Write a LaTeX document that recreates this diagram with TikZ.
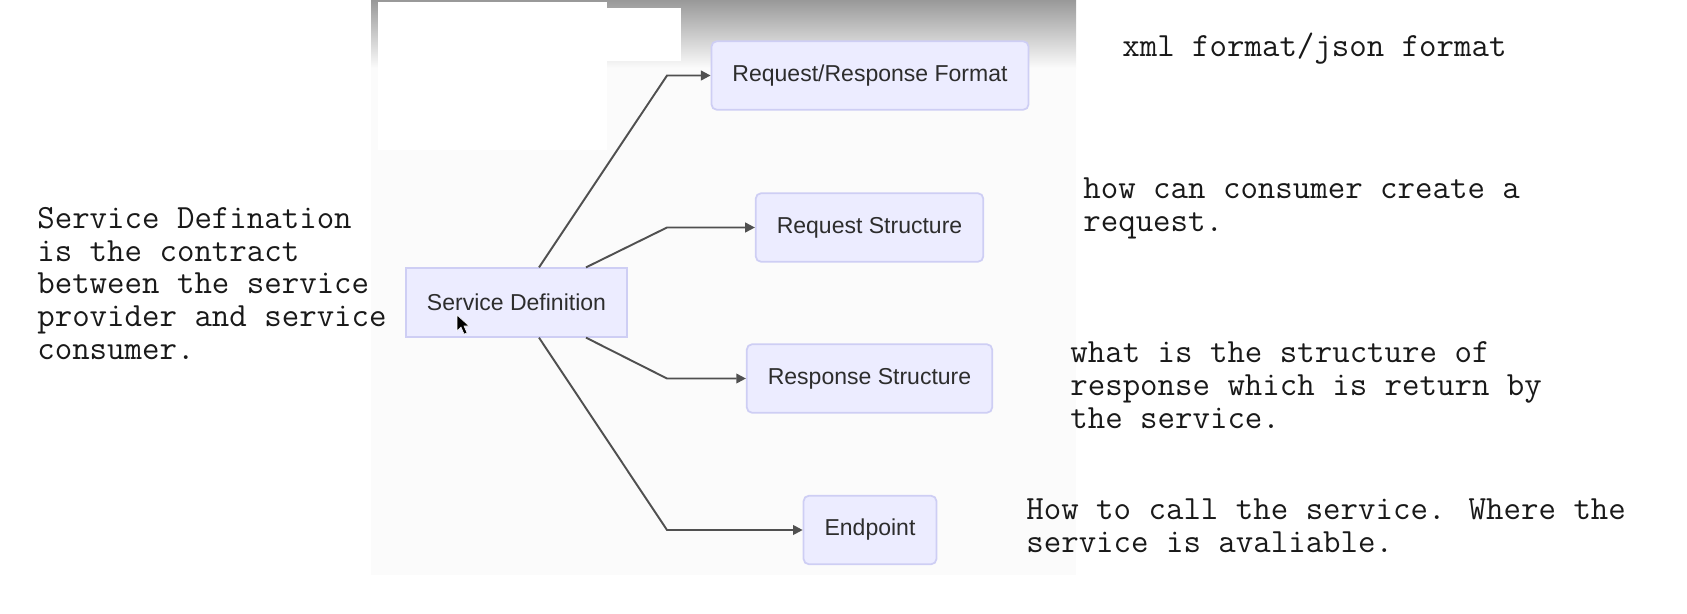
\documentclass[tikz,border=0pt]{standalone}
\usepackage{fontspec}
\newfontfamily\boxfont{Liberation Sans}
\usetikzlibrary{arrows.meta}
\definecolor{boxfill}{RGB}{236,236,255}
\definecolor{boxline}{RGB}{206,206,244}
\definecolor{ink}{RGB}{45,45,45}
\definecolor{wire}{RGB}{80,80,80}
\definecolor{shot}{RGB}{251,251,251}
\tikzset{
  topic/.style={draw=boxline, fill=boxfill, line width=1pt, rounded corners=3pt,
    minimum height=1.37cm, inner xsep=0.42cm, text=ink,
    font=\boxfont\fontsize{13.1}{15}\selectfont},
  note/.style={anchor=base west, align=left, inner sep=0pt, text=black!90,
    font=\ttfamily\fontsize{19.3}{18.55}\selectfont},
  wire/.style={draw=wire, line width=1.1pt, -{Triangle[length=5.5pt,width=5.5pt]}}
}

\begin{document}
\begin{tikzpicture}[x=0.02cm,y=-0.02cm]
\useasboundingbox (0,0) rectangle (1687,613);
% screenshot behind the diagram
\fill[shot] (371,0) rectangle (1076,575);
\shade[top color=black!40, bottom color=shot] (371,0) rectangle (1076,68);
\fill[white] (378,2) rectangle (607,150);
\fill[white] (607,8) rectangle (681,61);

\node[topic] (rrf) at (870,75.5) {Request/Response Format};
\node[topic] (req) at (869.5,227.5) {Request Structure};
\node[topic, rounded corners=0pt] (sd) at (516.5,302.5) {Service Definition};
\node[topic] (resp) at (869.5,378.5) {Response Structure};
\node[topic] (ep) at (870,530) {Endpoint};

\coordinate (tapa) at (539,0);
\coordinate (tapb) at (586,0);
\coordinate (knee) at (667,0);
\draw[wire] (sd.north -| tapa) -- (rrf.west -| knee) -- (rrf.west);
\draw[wire] (sd.north -| tapb) -- (req.west -| knee) -- (req.west);
\draw[wire] (sd.south -| tapb) -- (resp.west -| knee) -- (resp.west);
\draw[wire] (sd.south -| tapa) -- (ep.west -| knee) -- (ep.west);

% mouse pointer
\fill[black, draw=white, line width=0.3pt] (457,315) -- (457,331) -- (461,327) -- (464,334)
  -- (467,333) -- (464,326) -- (469,326) -- cycle;

% base west is the last line here
\node[note] (defn) at (37,359) {Service Defination\\is the contract\\between the service\\provider and service\\consumer.};
\node[note] (fmt) at (1122,56) {xml format/json format};
\node[note] (reqnote) at (1083,231) {how can consumer create a\\request.};
\node[note] (respnote) at (1070,428) {what is the structure of\\response which is return by\\the service.};
\node[note] (epnote) at (1026,552) {How to call the service. Where the\\service is avaliable.};
\end{tikzpicture}
\end{document}
